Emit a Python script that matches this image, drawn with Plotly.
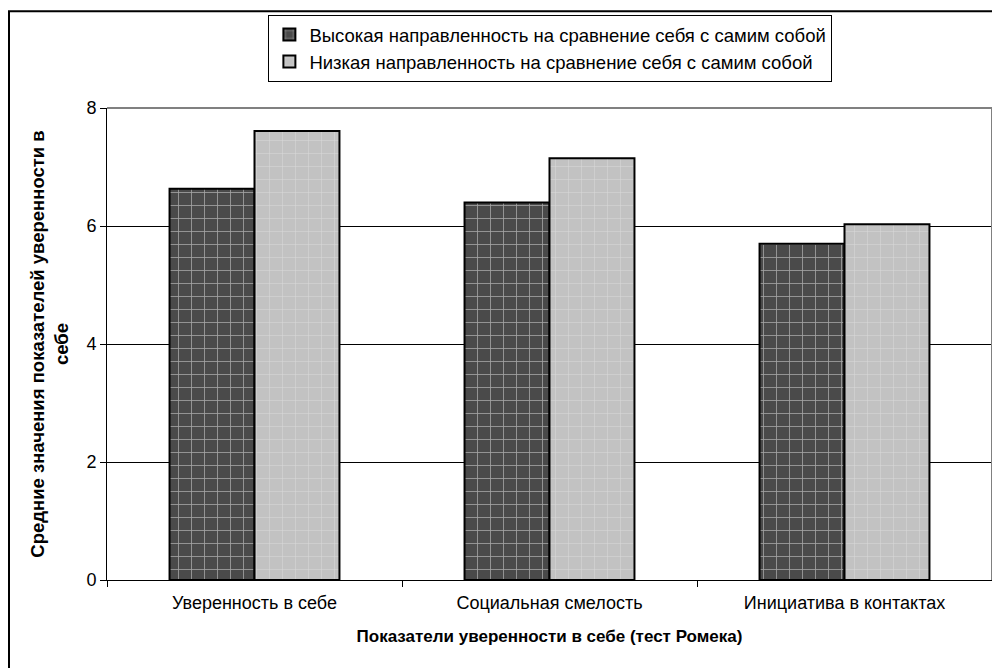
import plotly.graph_objects as go

categories = ["Уверенность в себе", "Социальная смелость", "Инициатива в контактах"]
high_values = [6.63, 6.40, 5.70]
low_values = [7.61, 7.15, 6.03]
series_names = ["Высокая направленность на сравнение себя с самим собой",
                "Низкая направленность на сравнение себя с самим собой"]
y_ticks = [0, 2, 4, 6, 8]

FONT = "Liberation Sans, Arial, sans-serif"

fig = go.Figure()
fig.add_trace(go.Bar(
    x=categories, y=high_values, name=series_names[0],
    marker=dict(color="#4a4a4a",
                line=dict(color="black", width=2),
                pattern=dict(shape="+", fgcolor="white", bgcolor="#4a4a4a",
                             size=13, solidity=0.12, fillmode="overlay")),
))
fig.add_trace(go.Bar(
    x=categories, y=low_values, name=series_names[1],
    marker=dict(color="#c2c2c2",
                line=dict(color="black", width=2),
                pattern=dict(shape="+", fgcolor="#efefef", bgcolor="#c2c2c2",
                             size=13, solidity=0.08, fillmode="overlay")),
))

# page has an 8px body margin: figure placed at screen (8, 8)
fig.update_layout(
    width=992, height=660,
    margin=dict(l=99, r=8, t=99, b=88),
    paper_bgcolor="white", plot_bgcolor="white",
    font=dict(family=FONT, size=18, color="black"),
    barmode="group", bargap=0.424, bargroupgap=0,
    showlegend=True,
    legend=dict(x=0.501, y=1.1945, xanchor="center", yanchor="top",
                bordercolor="black", borderwidth=1, bgcolor="white",
                font=dict(family=FONT, size=18.5, color="black"),
                traceorder="normal", tracegroupgap=0, itemwidth=30),
    xaxis=dict(
        type="category", range=[-0.5, 2.5],
        showline=True, linecolor="black", linewidth=1,
        ticks="outside", ticklen=6, tickcolor="black", tickson="boundaries",
        ticklabelstandoff=6,
        tickfont=dict(family=FONT, size=18, color="black"),
        title=dict(text="<b>Показатели уверенности в себе (тест Ромека)</b>",
                   font=dict(family=FONT, size=17, color="black"), standoff=18),
        showgrid=False,
    ),
    yaxis=dict(
        range=[0, 8], tickvals=y_ticks,
        showline=True, linecolor="black", linewidth=1,
        ticks="outside", ticklen=6, tickcolor="black",
        tickfont=dict(family=FONT, size=18, color="black"),
        showgrid=True, gridcolor="black", gridwidth=1,
        zeroline=False,
        title=dict(text="<b>Средние значения показателей уверенности в<br>себе</b>",
                   font=dict(family=FONT, size=18.5, color="black"), standoff=12),
    ),
)

# plot area top/right border (gray)
fig.add_shape(type="line", xref="paper", yref="paper", x0=0, x1=1, y0=1, y1=1,
              line=dict(color="#808080", width=2), layer="above")
fig.add_shape(type="line", xref="paper", yref="paper", x0=1, x1=1, y0=0, y1=1,
              line=dict(color="#808080", width=2), layer="above")

# outer chart border (screen px -> paper)
px_to_x = lambda px: (px - 107) / 885
px_to_y = lambda py: (580 - py) / 473
fig.add_shape(type="rect", xref="paper", yref="paper",
              x0=px_to_x(9), x1=px_to_x(1020), y0=px_to_y(700), y1=px_to_y(10),
              line=dict(color="black", width=2), layer="above")

fig.write_html("out.html")
